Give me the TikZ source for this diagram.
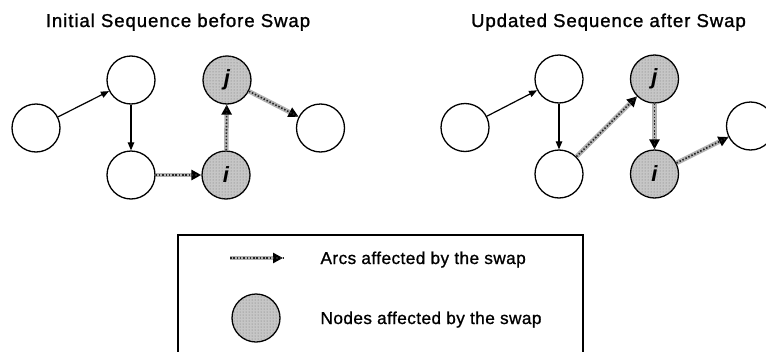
\documentclass[tikz,border=0pt]{standalone}
\usepackage{fontspec}
\setmainfont{Liberation Sans}
\usetikzlibrary{arrows.meta,patterns}

\begin{document}
\begin{tikzpicture}[x=1pt,y=-1pt,
  seqnode/.style={circle, draw, line width=1.3pt, minimum size=48pt, inner sep=0pt,
    font=\bfseries\itshape\fontsize{22}{22}\selectfont},
  swapnode/.style={seqnode, fill=gray!45, postaction={pattern=dots, pattern color=black!55}},
  arc/.style={line width=1.2pt, -{Triangle[length=8pt,width=6.5pt]}},
  swaparc/.style={line width=4.5pt, draw=gray!60,
    -{Triangle[length=10pt,width=10pt,color=black,fill=black]},
    postaction={draw=black!85, line width=1.6pt, dash pattern=on 1.5pt off 1.8pt, -{}}},
  titletext/.style={anchor=base, font=\fontsize{18.6}{22}\selectfont\addfontfeatures{LetterSpace=5,FakeBold=1.2}},
  legendtext/.style={anchor=base west, font=\fontsize{17.2}{20}\selectfont\addfontfeatures{LetterSpace=2.5,FakeBold=1}}
]
\useasboundingbox (0,0) rectangle (766,351);

% titles
\node[titletext] (t1) at (178,27) {Initial Sequence before Swap};
\node[titletext] (t2) at (608.5,27) {Updated Sequence after Swap};

% sequence before the swap
\node[seqnode]  (a1) at (36,128) {};
\node[seqnode]  (b1) at (131,80) {};
\node[seqnode]  (c1) at (131,175) {};
\node[swapnode] (i1) at (226,175) {i};
\node[swapnode] (j1) at (227,80) {j};
\node[seqnode]  (r1) at (320.5,128) {};

\draw[arc] (a1) -- (b1);
\draw[arc] (b1) -- (c1);
\draw[swaparc] (c1) -- (i1);
\draw[swaparc] (i1) -- (j1);
\draw[swaparc] (j1) -- (r1);

% sequence after the swap
\node[seqnode]  (a2) at (465,127.5) {};
\node[seqnode]  (b2) at (559,79) {};
\node[seqnode]  (c2) at (559,174) {};
\node[swapnode] (j2) at (654.5,79) {j};
\node[swapnode] (i2) at (654.5,174) {i};
\node[seqnode]  (r2) at (750.5,126) {};

\draw[arc] (a2) -- (b2);
\draw[arc] (b2) -- (c2);
\draw[swaparc] (c2) -- (j2);
\draw[swaparc] (j2) -- (i2);
\draw[swaparc] (i2) -- (r2);

% legend
\draw[line width=1.2pt] (178,235) rectangle (583,354);
\coordinate (la1) at (230,258);
\coordinate (la2) at (283,258);
\draw[swaparc, line width=3.5pt] (la1) -- (la2);
\node[legendtext] (lt1) at (317,264) {Arcs affected by the swap};
\node[swapnode] (ln) at (256,318) {};
\node[legendtext] (lt2) at (317,324) {Nodes affected by the swap};
\end{tikzpicture}
\end{document}
